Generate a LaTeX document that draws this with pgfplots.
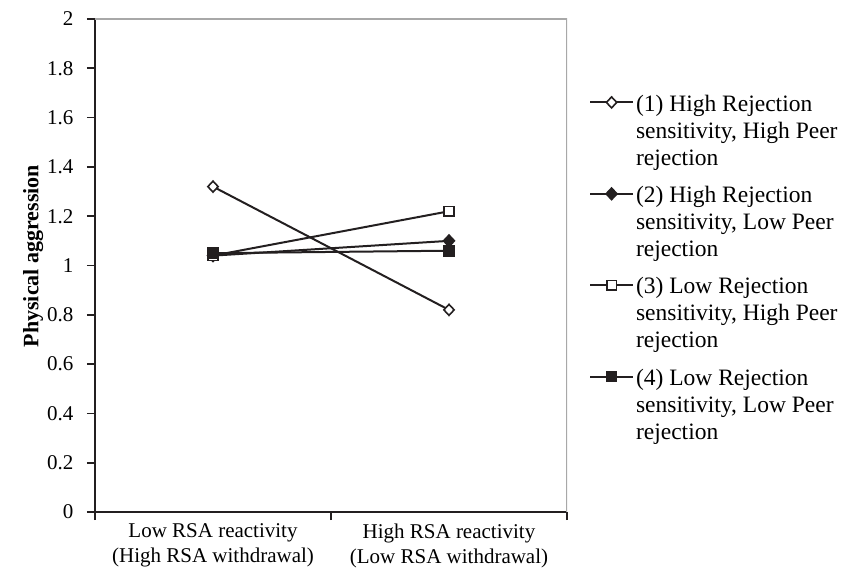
\documentclass[border=0pt]{standalone}
\usepackage{fontspec}
\setmainfont{Liberation Serif}
\usepackage{pgfplots}
\pgfplotsset{compat=1.18}
\definecolor{ink}{HTML}{231F20}
\definecolor{frame}{HTML}{A8A8A8}
\newcommand{\legthree}[3]{\begin{tabular}[t]{@{}l@{}}#1\\#2\\#3\end{tabular}}
\begin{document}
\begin{tikzpicture}
\useasboundingbox (0,0) rectangle (848pt,576pt);
\begin{axis}[
  at={(95pt,64pt)}, anchor=south west,
  scale only axis, width=472pt, height=493pt,
  xmin=0, xmax=2, ymin=0, ymax=2,
  axis x line*=bottom, axis y line*=left,
  axis line style={-, ink, line width=2pt},
  tick align=outside, major tick length=8pt,
  tick style={ink, line width=1.6pt},
  xtick={0,1,2}, xticklabels={},
  extra x ticks={0.5,1.5},
  extra x tick labels={{Low RSA reactivity\\(High RSA withdrawal)},{High RSA reactivity\\(Low RSA withdrawal)}},
  extra x tick style={major tick length=0pt, tick style={draw=none}},
  xticklabel style={align=center, font=\fontsize{21}{25}\selectfont, yshift=-8pt},
  ytick={0,0.2,0.4,0.6,0.8,1,1.2,1.4,1.6,1.8,2},
  yticklabel style={font=\fontsize{21}{25}\selectfont, xshift=-10pt},
  /pgf/number format/assume math mode=true,
  ylabel={\textbf{Physical aggression}},
  ylabel style={at={(axis description cs:-0.131,0.519)}, anchor=center, font=\fontsize{22}{26}\selectfont},
  legend style={draw=none, fill=none, at={(axis description cs:1.04,0.86)}, anchor=north west,
    font=\fontsize{23.5}{27}\selectfont, row sep=67pt,
    nodes={inner sep=2pt}},
  legend cell align=left,
  legend image code/.code={\draw[mark repeat=2,mark phase=2,#1] plot coordinates {(0pt,0pt) (21.5pt,0pt) (43pt,0pt)};},
  every axis plot/.append style={ink, line width=2pt, mark size=5.5pt},
]
\draw[frame, line width=1.2pt] (rel axis cs:0,1) -- (rel axis cs:1,1) -- (rel axis cs:1,0);
\addplot[mark=diamond*, mark options={fill=white, solid, line width=1.6pt, xscale=1.25}] coordinates {(0.5,1.32) (1.5,0.82)};
\addlegendentry{\legthree{(1) High Rejection}{sensitivity, High Peer}{rejection}}
\addplot[mark=diamond*, mark options={fill=ink, solid, xscale=1.25}] coordinates {(0.5,1.04) (1.5,1.10)};
\addlegendentry{\legthree{(2) High Rejection}{sensitivity, Low Peer}{rejection}}
\addplot[mark=square*, mark size=4.8pt, mark options={fill=white, solid, line width=1.6pt}] coordinates {(0.5,1.04) (1.5,1.22)};
\addlegendentry{\legthree{(3) Low Rejection}{sensitivity, High Peer}{rejection}}
\addplot[mark=square*, mark size=4.8pt, mark options={fill=ink, solid}] coordinates {(0.5,1.05) (1.5,1.06)};
\addlegendentry{\legthree{(4) Low Rejection}{sensitivity, Low Peer}{rejection}}
\end{axis}
\end{tikzpicture}
\end{document}
